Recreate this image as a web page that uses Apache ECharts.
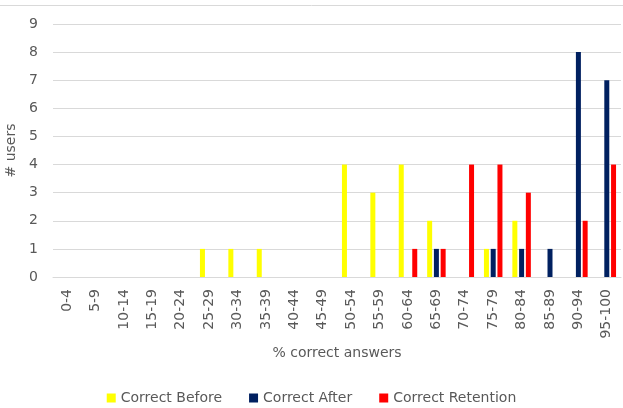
<!DOCTYPE html>
<html>
<head>
<meta charset="utf-8">
<script src="https://cdn.jsdelivr.net/npm/echarts@6/dist/echarts.min.js"></script>
<style>
  html, body { margin: 0; padding: 0; background: #fff; }
  #chart { width: 623px; height: 408px; }
</style>
</head>
<body>
<div id="chart"></div>
<script>
  // score buckets
  const categories = ['0-4', '5-9', '10-14', '15-19', '20-24', '25-29', '30-34', '35-39', '40-44', '45-49',
    '50-54', '55-59', '60-64', '65-69', '70-74', '75-79', '80-84', '85-89', '90-94', '95-100']
  const correctBefore = [0, 0, 0, 0, 0, 1, 1, 1, 0, 0, 4, 3, 4, 2, 0, 1, 2, 0, 0, 0]
  const correctAfter = [0, 0, 0, 0, 0, 0, 0, 0, 0, 0, 0, 0, 0, 1, 0, 1, 1, 1, 8, 7]
  const correctRetention = [0, 0, 0, 0, 0, 0, 0, 0, 0, 0, 0, 0, 1, 1, 4, 4, 3, 0, 2, 4]
  const yTicks = [0, 1, 2, 3, 4, 5, 6, 7, 8, 9]

  const font = 'DejaVu Sans'
  const textColor = '#595959'
  const gridColor = '#d9d9d9'

  const chart = echarts.init(document.getElementById('chart'))

  const bar = (name, data, color) => ({
    name: name,
    type: 'bar',
    data: data,
    barWidth: 5,
    barGap: '35%',
    itemStyle: { color: color },
  })

  chart.setOption({
    animation: false,
    textStyle: { fontFamily: font },
    graphic: [
      {
        type: 'line',
        shape: { x1: 0, y1: 5.5, x2: 623, y2: 5.5 },
        style: { stroke: gridColor, lineWidth: 1 },
      },
    ],
    grid: { left: 53, right: 2, top: 24, bottom: 131, outerBoundsMode: 'none' },
    legend: {
      top: 386,
      left: 'center',
      itemWidth: 9,
      itemHeight: 9,
      itemGap: 27,
      icon: 'rect',
      textStyle: { color: textColor, fontSize: 14, fontFamily: font },
      data: ['Correct Before', 'Correct After', 'Correct Retention'],
    },
    xAxis: {
      type: 'category',
      data: categories,
      name: '% correct answers',
      nameLocation: 'middle',
      nameGap: 69,
      nameTextStyle: { color: textColor, fontSize: 14, fontFamily: font },
      axisLine: { lineStyle: { color: gridColor } },
      axisTick: { show: false },
      axisLabel: { rotate: 90, interval: 0, color: textColor, fontSize: 14, margin: 12, fontFamily: font },
    },
    yAxis: {
      type: 'value',
      min: yTicks[0],
      max: yTicks[yTicks.length - 1],
      interval: 1,
      name: '# users',
      nameLocation: 'middle',
      nameGap: 33,
      nameRotate: 90,
      nameTextStyle: { color: textColor, fontSize: 14, fontFamily: font },
      axisLine: { show: false },
      axisTick: { show: false },
      axisLabel: { color: textColor, fontSize: 14, margin: 15, fontFamily: font },
      splitLine: { lineStyle: { color: gridColor } },
    },
    series: [
      bar('Correct Before', correctBefore, '#ffff00'),
      bar('Correct After', correctAfter, '#002060'),
      bar('Correct Retention', correctRetention, '#ff0000'),
    ],
  })
</script>
</body>
</html>
